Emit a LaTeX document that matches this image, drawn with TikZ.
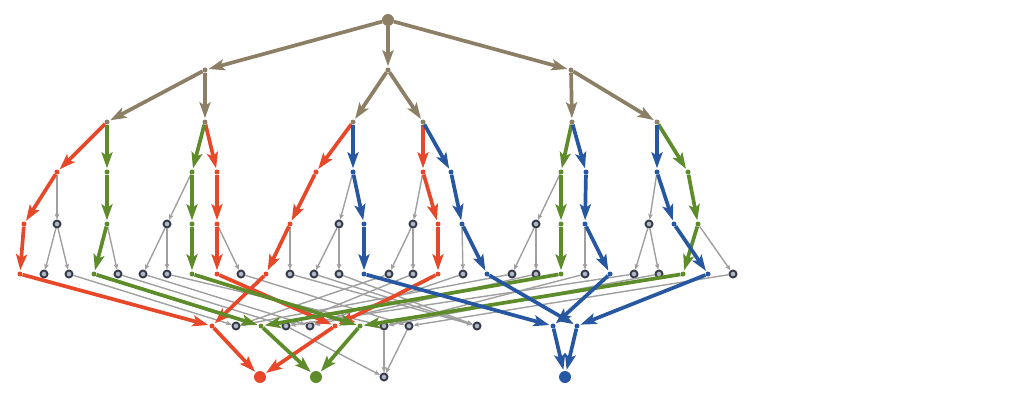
\documentclass[tikz,border=0pt]{standalone}
\usetikzlibrary{arrows.meta}
\definecolor{tanc}{HTML}{8C7F66}
\definecolor{redc}{HTML}{E8482A}
\definecolor{grnc}{HTML}{5E8C2B}
\definecolor{bluc}{HTML}{2657A0}
\definecolor{gedge}{HTML}{A0A0A0}
\definecolor{gring}{HTML}{363A48}
\definecolor{gfill}{HTML}{AEB6C8}
\begin{document}
\begin{tikzpicture}[x=1pt,y=-1pt,
  dot/.style={circle,inner sep=0pt,minimum size=5pt,fill=#1},
  big/.style={circle,inner sep=0pt,minimum size=12pt,fill=#1},
  ring/.style={circle,inner sep=0pt,minimum size=7pt,draw=gring,line width=1.9pt,fill=gfill},
  cedge/.style={draw=#1,line width=3.7pt,-{Stealth[length=16pt,width=11pt,inset=3.5pt]},shorten >=1pt},
  gedg/.style={draw=gedge,line width=1.4pt,-{Stealth[length=5.5pt,width=4.5pt,inset=1pt]}}
]
\useasboundingbox (0,0) rectangle (1026,400);
% level 0-2
\node[big=tanc] (r) at (388,20) {};
\foreach \n/\x in {a1/205,a2/388,a3/571} \node[dot=tanc] (\n) at (\x,70) {};
\foreach \n/\x in {b1/107,b2/205,b3/353,b4/423,b5/572,b6/657} \node[dot=tanc] (\n) at (\x,122) {};
% level 3
\foreach \n/\x/\c in {c1/57/redc,c2/107/grnc,c3/192/grnc,c4/217/redc,c5/316/redc,c6/353/bluc,c7/423/redc,c8/451/bluc,c9/561/grnc,c10/586/bluc,c11/657/bluc,c12/688/grnc}
  \node[dot=\c] (\n) at (\x,172) {};
% level 4
\foreach \n/\x/\c in {d1/24/redc,d3/107/grnc,d5/192/grnc,d6/217/redc,d7/290/redc,d9/364/bluc,d11/438/redc,d12/462/bluc,d14/561/grnc,d15/585/bluc,d17/674/bluc,d18/698/grnc}
  \node[dot=\c] (\n) at (\x,224) {};
\foreach \n/\x in {d2/57,d4/167,d8/339,d10/413,d13/536,d16/649}
  \node[ring] (\n) at (\x,224) {};
% level 5
\foreach \n/\x/\c in {e1/20/redc,e4/94/grnc,e8/192/grnc,e9/217/redc,e11/266/redc,e15/364/bluc,e18/438/redc,e20/487/bluc,e23/561/grnc,e25/610/bluc,e28/683/grnc,e29/708/bluc}
  \node[dot=\c] (\n) at (\x,274) {};
\foreach \n/\x in {e2/44,e3/69,e5/118,e6/143,e7/167,e10/241,e12/290,e13/314,e14/339,e16/389,e17/413,e19/463,e21/512,e22/536,e24/585,e26/634,e27/659,e30/733}
  \node[ring] (\n) at (\x,274) {};
% level 6
\foreach \n/\x/\c in {f1/212/redc,f3/261/grnc,f6/335/redc,f7/360/grnc,f11/553/bluc,f12/577/bluc}
  \node[dot=\c] (\n) at (\x,326) {};
\foreach \n/\x in {f2/236,f4/286,f5/310,f8/384,f9/409,f10/477}
  \node[ring] (\n) at (\x,326) {};
% level 7
\node[big=redc] (g1) at (260,377) {};
\node[big=grnc] (g2) at (316,377) {};
\node[ring] (g3) at (384,377) {};
\node[big=bluc] (g4) at (565,377) {};
% gray edges
\foreach \s/\t in {c1/d2,c3/d4,c6/d8,c7/d10,c9/d13,c11/d16,
  d2/e2,d2/e3,d3/e5,d4/e6,d4/e7,d6/e10,d7/e12,d8/e13,d8/e14,d10/e16,d10/e17,d12/e19,d13/e21,d13/e22,d15/e24,d16/e26,d16/e27,d18/e30,
  e3/f2,e5/f4,e6/f5,e7/f8,e10/f9,e12/f10,e13/f10,e14/f10,e16/f2,e17/f4,e19/f5,e21/f2,e22/f5,e24/f8,e26/f4,e27/f8,e30/f9,
  f4/g3,f8/g3,f9/g3}
  \draw[gedg] (\s) -- (\t);
% tan edges
\foreach \s/\t in {r/a1,r/a2,r/a3,a1/b1,a1/b2,a2/b3,a2/b4,a3/b5,a3/b6}
  \draw[cedge=tanc] (\s) -- (\t);
% red
\foreach \s/\t in {b1/c1,b2/c4,b3/c5,b4/c7,c1/d1,c4/d6,c5/d7,c7/d11,d1/e1,d6/e9,d7/e11,d11/e18,e1/f1,e11/f1,e9/f6,e18/f6,f1/g1,f6/g1}
  \draw[cedge=redc] (\s) -- (\t);
% green
\foreach \s/\t in {b1/c2,b2/c3,b5/c9,b6/c12,c2/d3,c3/d5,c9/d14,c12/d18,d3/e4,d5/e8,d14/e23,d18/e28,e4/f3,e23/f3,e8/f7,e28/f7,f3/g2,f7/g2}
  \draw[cedge=grnc] (\s) -- (\t);
% blue
\foreach \s/\t in {b3/c6,b4/c8,b5/c10,b6/c11,c6/d9,c8/d12,c10/d15,c11/d17,d9/e15,d12/e20,d15/e25,d17/e29,e15/f11,e25/f11,e20/f12,e29/f12,f11/g4,f12/g4}
  \draw[cedge=bluc] (\s) -- (\t);
\end{tikzpicture}
\end{document}
